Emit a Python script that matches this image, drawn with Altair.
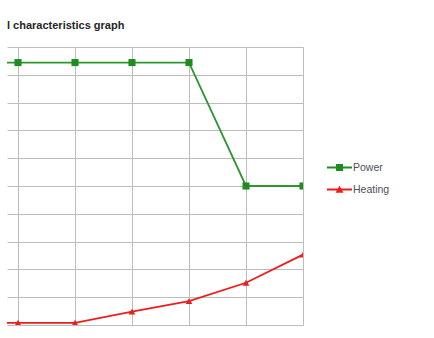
import altair as alt
import pandas as pd

# ---- data ----
x_pos = [0, 1, 2, 3, 4, 5, 6]
power = [94.4, 94.4, 94.4, 94.4, 94.4, 50.0, 50.0]
heating = [0.8, 0.8, 0.8, 4.8, 8.6, 15.2, 25.3]
series = ["Power", "Heating"]
colors = ["#1f8c1f", "#ee1d1d"]
legend_shapes = [
    "M-1,-0.08H1V0.08H-1Z M-0.28,-0.28H0.28V0.28H-0.28Z",
    "M-1,-0.08H1V0.08H-1Z M0,-0.3L0.32,0.26H-0.32Z",
]
x_ticks = [1, 2, 3, 4, 5, 6]
y_ticks = list(range(0, 101, 10))
title_text = "l characteristics graph"

rows = []
for i, xv in enumerate(x_pos):
    rows.append({"x": xv, "value": power[i], "series": "Power"})
    rows.append({"x": xv, "value": heating[i], "series": "Heating"})
df = pd.DataFrame(rows)

grid_col = "#bdbdbd"
x_enc = alt.X(
    "x:Q",
    scale=alt.Scale(domain=[0.807, 6], nice=False, zero=False),
    axis=alt.Axis(values=x_ticks, labels=False, ticks=False, domain=False,
                  title=None, grid=True, gridColor=grid_col, gridWidth=1),
)
y_enc = alt.Y(
    "value:Q",
    scale=alt.Scale(domain=[0, 100], nice=False),
    axis=alt.Axis(values=y_ticks, labels=False, ticks=False, domain=False,
                  title=None, grid=True, gridColor=grid_col, gridWidth=1),
)
color_scale = alt.Scale(domain=series, range=colors)

legend = alt.Legend(
    title=None,
    orient="none",
    legendX=320,
    legendY=108,
    padding=0,
    labelFont="Liberation Sans",
    labelFontSize=10.5,
    labelColor="#4f4f5c",
    labelOffset=1,
    rowPadding=4,
    symbolSize=625,
    symbolOpacity=1,
    symbolStrokeWidth=0,
)

base = alt.Chart(df)
line_power = base.transform_filter(alt.datum.series == "Power").mark_line(
    clip=True, strokeWidth=1.8, color="#2f962f").encode(x=x_enc, y=y_enc)
line_heat = base.transform_filter(alt.datum.series == "Heating").mark_line(
    clip=True, strokeWidth=1.8, color=colors[1]).encode(x=x_enc, y=y_enc)
pts_power = base.transform_filter(alt.datum.series == "Power").mark_point(
    filled=True, clip=True, size=50, opacity=1, shape="square", color=colors[0]
).encode(x=x_enc, y=y_enc)
pts_heat = base.transform_filter(alt.datum.series == "Heating").mark_point(
    filled=True, clip=True, size=45, opacity=1, shape="triangle-up", color=colors[1]
).encode(x=x_enc, y=y_enc)
legend_layer = base.mark_point(filled=True, clip=True, opacity=0).encode(
    x=x_enc, y=y_enc,
    color=alt.Color("series:N", scale=color_scale, legend=legend),
    shape=alt.Shape("series:N", scale=alt.Scale(domain=series, range=legend_shapes), legend=legend),
)

chart = alt.layer(line_power, line_heat, pts_power, pts_heat, legend_layer).properties(
    width=296,
    height=278,
    autosize=alt.AutoSizeParams(type="none"),
    padding={"left": 7, "top": 47, "right": 131, "bottom": 13},
    title=alt.TitleParams(title_text, anchor="start", font="Liberation Sans",
                          fontSize=11, fontWeight="bold", color="#262626", offset=16),
    background="white",
).configure_view(stroke=None)

chart.save("out.html", embed_options={"renderer": "svg", "actions": False})
